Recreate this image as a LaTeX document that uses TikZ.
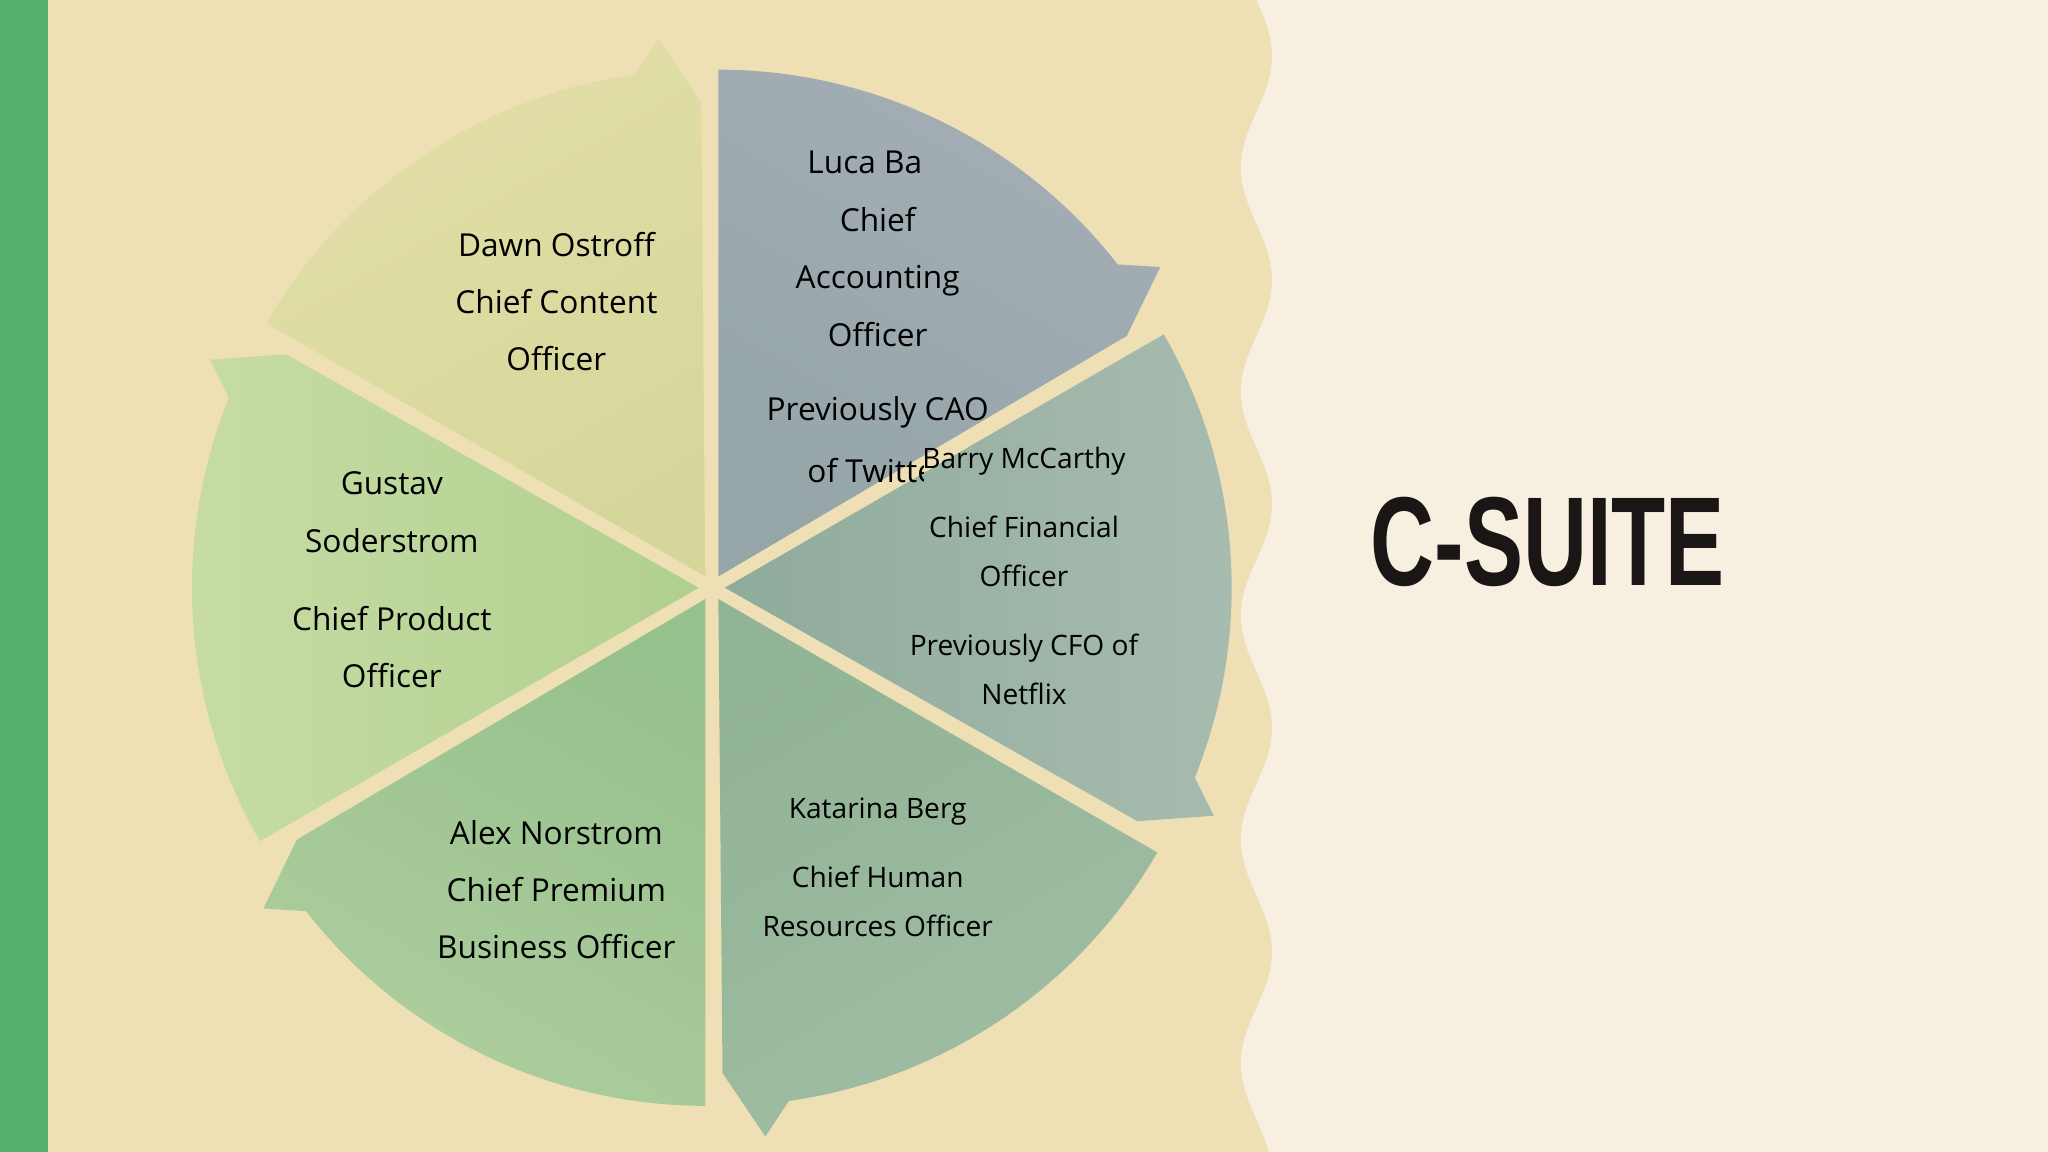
\documentclass[tikz,border=0pt]{standalone}
\usepackage{fontspec}
\setmainfont{Open Sans}
\newfontfamily\titlefont{Liberation Sans}
\definecolor{beige}{HTML}{EEDFB5}
\definecolor{light}{HTML}{F7F0E0}
\definecolor{stripe}{HTML}{55B070}
\definecolor{ink}{HTML}{1A1616}
\begin{document}
\begin{tikzpicture}[x=0.013061cm,y=-0.013061cm,
  lbl/.style={align=center,text=black,font=\fontsize{9}{16.3}\selectfont},
  slbl/.style={align=center,text=black,font=\fontsize{8}{14}\selectfont}]
\useasboundingbox (0,0) rectangle (1568,882);
\fill[beige] (0,0) rectangle (1568,882);
\fill[light] (1568,0) -- (962,0) -- plot[domain=0:882,samples=200] ({962+12*sin(\x*2.1)},\x) -- (1568,882) -- cycle;
\fill[stripe] (0,0) rectangle (37,882);
\begin{scope}[shift={(545,450)},yscale=-1]
\def\R{388}
\foreach \a/\ca/\cb in {60/A3AEB5/95A5A8, 0/A8BCB0/8FAB9C, -60/A0BDA3/91B396, -120/AECE9E/96C08C, 180/C8DCA6/B0D08E, 120/E2DFA8/D5D79A}{
  \definecolor{cA}{HTML}{\ca}
  \definecolor{cB}{HTML}{\cb}
  \pgfmathsetmacro\s{\a+30}
  \pgfmathsetmacro\ee{\a-30+8}
  \pgfmathsetmacro\et{\a-30+5}
  \pgfmathsetmacro\en{\a-30+0.5}
  \pgfmathsetmacro\sa{\a-90}
  \begin{scope}[shift={(\a:10)}]
  \shade[top color=cA,bottom color=cB, shading angle=\sa]
  (0,0) -- (\s:\R) arc[start angle=\s,end angle=\ee,radius=\R]
   -- (\et:\R+25) -- (\en:\R-25) -- cycle;
  \end{scope}
}
\end{scope}
\node[lbl] (dawn) at (426,231) {Dawn Ostroff\\Chief Content\\Officer};
\node[lbl] (gus) at (300,444) {Gustav\\Soderstrom\\[6pt]Chief Product\\Officer};
\node[lbl] (alex) at (426,681) {Alex Norstrom\\Chief Premium\\Business Officer};
\begin{scope}
\clip (560,60) rectangle (707,400);
\node[lbl] (luca) at (672,124) {Luca Barr};
\node[lbl] (twit) at (672,360) {of Twitter};
\end{scope}
\node[lbl] (luca2) at (672,212) {Chief\\Accounting\\Officer};
\node[lbl] (prev) at (672,316) {Previously CAO};
\node[slbl] (kat) at (672,664) {Katarina Berg\\[5.6pt]Chief Human\\Resources Officer};
\node[slbl] (barry) at (784,441) {Barry McCarthy\\[5.6pt]Chief Financial\\Officer\\[5.6pt]Previously CFO of\\Netflix};
\node[text=ink,font=\titlefont\bfseries\fontsize{36}{36}\selectfont,xscale=0.7,anchor=center] (title) at (1185,415) {C-SUITE};
\end{tikzpicture}
\end{document}
